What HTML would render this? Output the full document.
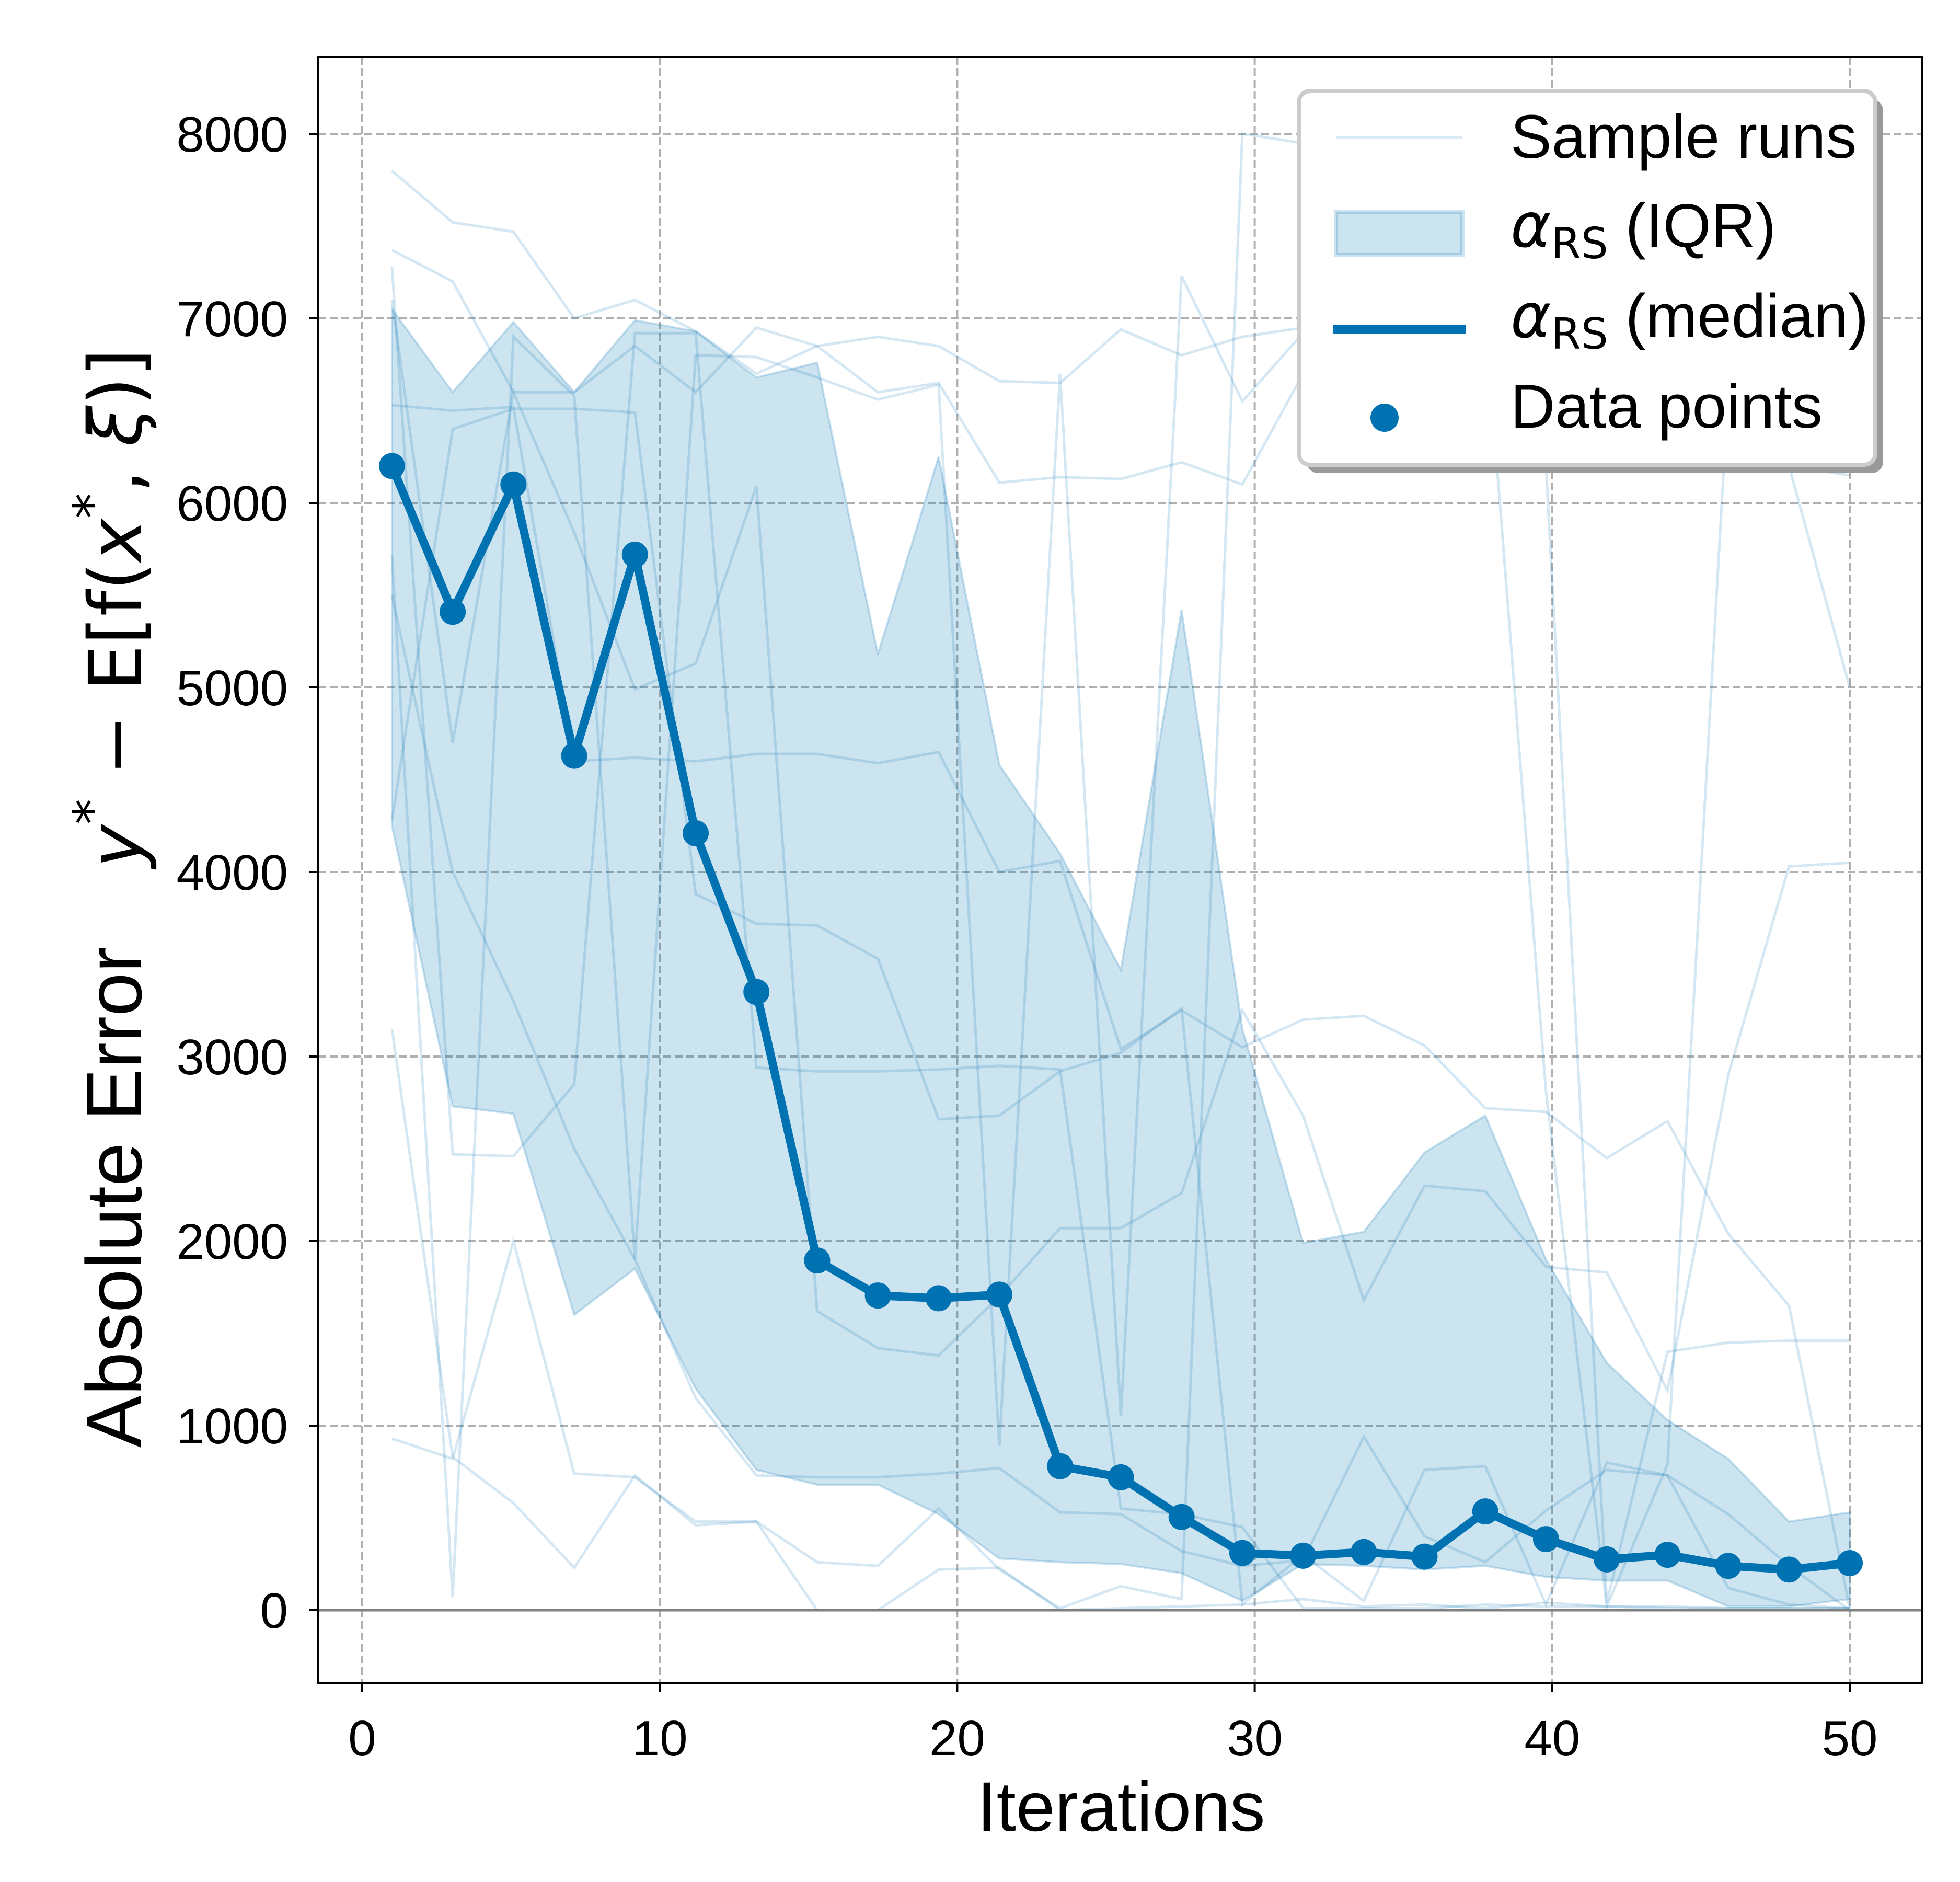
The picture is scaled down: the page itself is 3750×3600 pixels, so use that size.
<!DOCTYPE html>
<html><head><meta charset="utf-8"><style>
html,body{margin:0;padding:0;background:#fff;}
svg{display:block;font-family:"Liberation Sans",sans-serif;}
</style></head><body>
<svg id="chart" width="3750" height="3600" viewBox="0 0 3750 3600" xmlns="http://www.w3.org/2000/svg">
<g id="grid"></g>
<g id="runs"></g>
<g id="iqr"></g>
<g id="median"></g>
<g id="axes"></g>
<g id="legend">
  <rect x="2500" y="190" width="1103" height="715" rx="22" fill="#999"/>
  <rect x="2485" y="174" width="1103" height="715" rx="22" fill="#fff" stroke="#ccc" stroke-width="8"/>
  <line x1="2556" y1="263" x2="2798" y2="263" stroke="#0072B2" stroke-opacity="0.15" stroke-width="6"/>
  <text x="2890" y="302" font-size="118">Sample runs</text>
  <rect x="2556" y="405" width="242" height="82" fill="#0072B2" fill-opacity="0.2" stroke="#0072B2" stroke-opacity="0.2" stroke-width="8"/>
  <text x="2890" y="472" font-size="118"><tspan font-family="DejaVu Sans" font-style="italic">α</tspan><tspan font-size="82" dy="22" font-family="DejaVu Sans">RS</tspan><tspan dy="-22"> (IQR)</tspan></text>
  <line x1="2550" y1="630" x2="2805" y2="630" stroke="#0072B2" stroke-width="16"/>
  <text x="2890" y="645" font-size="118"><tspan font-family="DejaVu Sans" font-style="italic">α</tspan><tspan font-size="82" dy="22" font-family="DejaVu Sans">RS</tspan><tspan dy="-22"> (median)</tspan></text>
  <circle cx="2649" cy="799" r="27" fill="#0072B2"/>
  <text x="2890" y="818" font-size="118">Data points</text>
</g>
<text x="2145" y="3502" font-size="134" text-anchor="middle">Iterations</text>
<g transform="translate(270,0) rotate(-90)">
<text x="-2290" y="0" font-size="150" text-anchor="middle">Absolute Error</text>
<text x="-1660" y="0" font-size="140" text-anchor="start"><tspan font-family="DejaVu Sans" font-style="italic">y</tspan><tspan font-size="98" dy="-60" font-family="DejaVu Sans">*</tspan><tspan dy="60" font-family="DejaVu Sans"> − E[f(</tspan><tspan font-family="DejaVu Sans" font-style="italic">x</tspan><tspan font-size="98" dy="-60" font-family="DejaVu Sans">*</tspan><tspan dy="60" font-family="DejaVu Sans">, </tspan><tspan font-family="DejaVu Sans" font-style="italic">ξ</tspan><tspan font-family="DejaVu Sans">)]</tspan></text>
</g>
</svg>
<script>
const xTicks=[0,10,20,30,40,50];
const yTicks=[0,1000,2000,3000,4000,5000,6000,7000,8000];
const medianVals=[6200,5410,6100,4630,5720,4210,3350,1895,1705,1690,1710,780,720,505,310,295,315,290,535,385,275,300,240,220,255];
const iqrUpper=[7050,6600,6980,6600,6990,6930,6680,6760,5180,6250,4580,4100,3470,5420,3150,1990,2050,2480,2680,1900,1340,1030,820,480,530];
const iqrLower=[4250,2730,2690,1600,1850,1200,760,680,680,520,280,260,250,200,50,250,240,220,240,180,160,160,20,20,60];
const run1=[7800,7520,7470,7000,7100,6930,6700,6850,6900,6850,6660,6650,6940,6800,6900,6950,6990,6900,6920,6900,6880,6850,6820,6780,6700];
const run2=[7370,7200,6600,6600,6850,6600,6950,6850,6600,6650,6110,6140,6130,6220,6100,6700,6650,6300,6500,6400,6350,6300,6250,6200,6150];
const run3=[3150,830,580,230,730,460,480,260,240,550,220,10,130,60,8000,7950,7900,7800,7800,6200,40,1400,1450,1460,1460];
const run4=[930,820,2000,740,720,480,480,0,0,220,230,0,10,20,30,60,20,30,10,40,20,10,10,10,10];
const run5=[5500,4000,3300,2500,1900,1150,730,720,720,740,770,530,520,320,240,270,940,400,260,540,760,730,520,240,0];
const run6=[7100,4700,6600,5840,4990,5130,6090,1620,1420,1380,1700,2070,2070,2260,3250,2680,1680,2300,2270,1860,1830,1190,2900,4030,4050];
const run7=[6530,6500,6520,4600,4620,4600,4640,4640,4590,4650,4000,4060,3040,3250,3050,3200,3220,3060,2720,2700,2450,2650,2040,1650,10];
const run8=[4280,6400,6510,6510,6490,3880,3720,3710,3530,2660,2680,2920,3020,3260,30,300,50,760,780,30,800,730,120,30,10];
const run9=[7280,2470,2460,2850,6920,6920,2940,2920,2920,2930,2950,2930,550,520,450,10,10,10,30,20,20,20,10,10,10];
const run10=[5720,70,6900,6580,1900,6800,6790,6680,6560,6640,890,6700,1050,7230,6550,6920,6530,6620,7010,2810,20,790,6620,6200,5000];
const runs=[run1,run2,run3,run4,run5,run6,run7,run8,run9,run10];

const NS="http://www.w3.org/2000/svg";
const L=609,R=3677,T=109,B=3220;
function xs(v){return 693+(v-0)*(3539-693)/50;}
function ys(v){return 3080-v*(3080-256)/8000;}
function iterAt(i,n){return 1+i*49/(n-1);}
function mk(tag,attrs,parent){const e=document.createElementNS(NS,tag);for(const k in attrs)e.setAttribute(k,attrs[k]);parent.appendChild(e);return e;}
function pts(arr){return arr.map((v,i)=>xs(iterAt(i,arr.length)).toFixed(1)+","+ys(v).toFixed(1)).join(" ");}

const grid=document.getElementById('grid');
xTicks.forEach(t=>{
  const l=mk('line',{x1:xs(t),x2:xs(t),y1:T,y2:B,stroke:'#b0b0b0','stroke-width':4,'stroke-dasharray':'15,7'},grid);
  
  
});
yTicks.forEach(t=>{
  const l=mk('line',{x1:L,x2:R,y1:ys(t),y2:ys(t),stroke:'#b0b0b0','stroke-width':4,'stroke-dasharray':'15,7'},grid);
  
  
});

const rg=document.getElementById('runs');
runs.forEach(r=>{
  const p=mk('polyline',{points:pts(r),fill:'none',stroke:'#0072B2','stroke-opacity':0.17,'stroke-width':5},rg);
  
  
});

const ig=document.getElementById('iqr');
const up=iqrUpper.map((v,i)=>xs(iterAt(i,iqrUpper.length)).toFixed(1)+","+ys(v).toFixed(1));
const lo=iqrLower.map((v,i)=>xs(iterAt(i,iqrLower.length)).toFixed(1)+","+ys(v).toFixed(1)).reverse();
const band=mk('polygon',{points:up.concat(lo).join(" "),fill:'#0072B2','fill-opacity':0.2,stroke:'#0072B2','stroke-opacity':0.2,'stroke-width':4},ig);



const ax=document.getElementById('axes');
const zl=mk('line',{x1:L,x2:R,y1:ys(0),y2:ys(0),stroke:'#808080','stroke-width':5},ax);



const mg=document.getElementById('median');
const ml=mk('polyline',{points:pts(medianVals),fill:'none',stroke:'#0072B2','stroke-width':16,'stroke-linejoin':'round'},mg);


medianVals.forEach((v,i)=>{
  const c=mk('circle',{cx:xs(iterAt(i,medianVals.length)),cy:ys(v),r:25,fill:'#0072B2'},mg);
  
  
});

const fr=mk('rect',{x:L,y:T,width:R-L,height:B-T,fill:'none',stroke:'#000','stroke-width':4},ax);


xTicks.forEach(t=>{
  const tk=mk('line',{x1:xs(t),x2:xs(t),y1:B,y2:B+17,stroke:'#000','stroke-width':4},ax);
  
  
  const tx=mk('text',{x:xs(t),y:3358,'font-size':96,'text-anchor':'middle'},ax);
  tx.textContent=t;
  
  
});
yTicks.forEach(t=>{
  const tk=mk('line',{x1:L-17,x2:L,y1:ys(t),y2:ys(t),stroke:'#000','stroke-width':4},ax);
  
  
  const tx=mk('text',{x:551,y:ys(t)+34,'font-size':96,'text-anchor':'end'},ax);
  tx.textContent=t;
  
  
});
</script>
</body></html>
